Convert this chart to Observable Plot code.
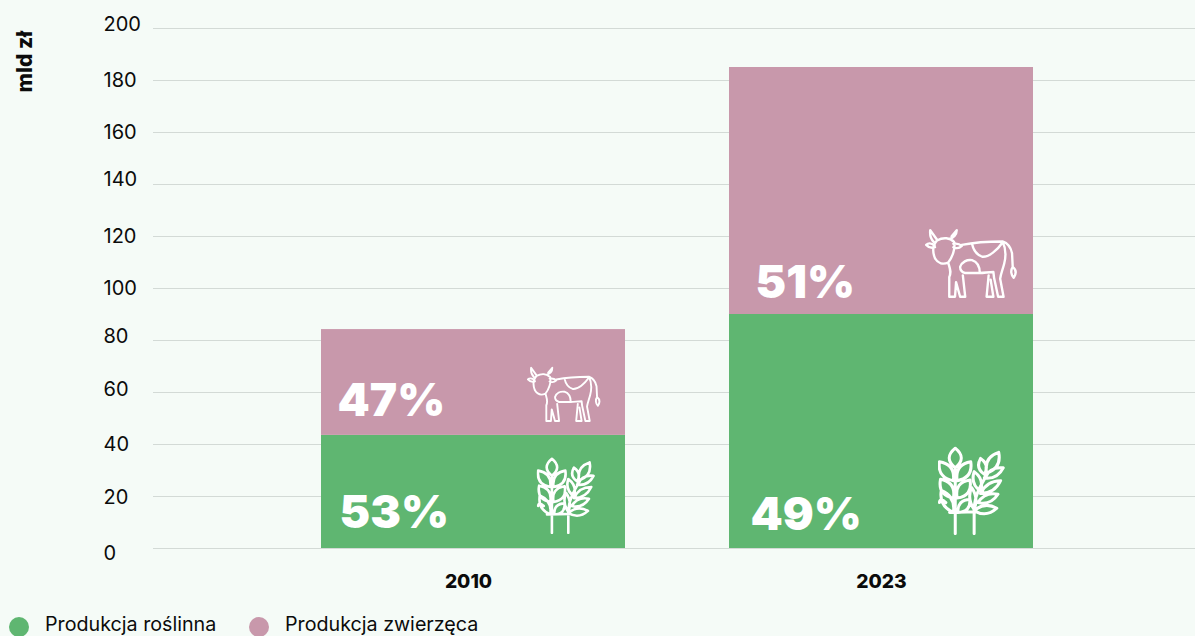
<!DOCTYPE html>
<html lang="pl">
<head>
<meta charset="utf-8">
<title>Produkcja rolnicza</title>
<script src="https://cdn.jsdelivr.net/npm/d3@7"></script>
<script src="https://cdn.jsdelivr.net/npm/@observablehq/plot@0.6"></script>
<style>
  html, body { margin: 0; padding: 0; background: #f5fbf7; overflow: hidden; }
  body { width: 1195px; height: 636px; font-family: Inter, sans-serif; color: #0b0b0b; }
  #chart svg { display: block; }
  .legend { position: relative; height: 24px; font-size: 19.7px; line-height: 24px; }
  .legend span { position: absolute; top: 0; white-space: nowrap; }
  .legend i { position: absolute; top: 5px; width: 20px; height: 20px; border-radius: 50%; }
</style>
</head>
<body>
<div id="chart"></div>
<div class="legend" id="legend"></div>
<script>
// Wartość produkcji rolniczej w mld zł
const years = ["2010", "2023"];
const seriesNames = ["Produkcja roślinna", "Produkcja zwierzęca"];
const plantValues = [43.5, 90];
const animalValues = [40.7, 95];
const plantShares = ["53%", "49%"];
const animalShares = ["47%", "51%"];
const yTicks = [0, 20, 40, 60, 80, 100, 120, 140, 160, 180, 200];

const GREEN = "#5fb671";
const PINK = "#c898ab";

const rows = years.flatMap((year, i) => [
  {year, series: seriesNames[0], value: plantValues[i], base: 0, share: plantShares[i]},
  {year, series: seriesNames[1], value: animalValues[i], base: plantValues[i], share: animalShares[i]}
]);

// Liniowe ikony: krowa i kłosy
const cowPath = [
  "M82,62C100,52 120,54 132,66C137,85 127,112 115,127C100,134 85,130 76,115C68,95 70,75 82,62Z",
  "M82,60L62,32C60,48 64,58 72,66M118,58C130,55 140,45 140,32L125,50",
  "M75,78C65,68 55,70 50,75C58,84 68,85 76,82M130,72C140,70 148,72 155,78C148,85 138,86 130,82",
  "M155,75C190,68 240,65 275,65C290,70 300,85 303,100L305,140",
  "M305,140C298,150 300,165 308,172C316,160 315,148 305,140Z",
  "M275,65C285,85 285,110 280,130C275,150 270,160 268,175L278,228L262,228L250,172",
  "M185,72C190,95 200,105 215,110C235,112 260,90 275,68",
  "M165,158C155,155 150,148 150,140C155,125 170,118 185,120C200,125 208,140 208,158L165,158",
  "M208,158C220,158 235,155 248,155L250,172",
  "M115,128C120,145 125,155 118,170L118,228L135,228L138,185L150,228L165,228L158,165",
  "M234,165L228,228L248,228L240,178"
].join("");
const cowSvg = `<svg xmlns="http://www.w3.org/2000/svg" viewBox="45 25 280 210"><path d="${cowPath}" fill="none" stroke="#fff" stroke-width="7" stroke-linecap="round" stroke-linejoin="round"/></svg>`;

// Listek kłosa jako zamknięty kształt między dwoma końcami
function leaf(x1, y1, x2, y2, bulge) {
  const mx = (x1 + x2) / 2, my = (y1 + y2) / 2;
  const dx = x2 - x1, dy = y2 - y1, len = Math.hypot(dx, dy);
  const nx = -dy / len * bulge, ny = dx / len * bulge;
  return `M${x1},${y1}Q${mx + nx},${my + ny} ${x2},${y2}Q${mx - nx},${my - ny} ${x1},${y1}Z`;
}
const wheatPath = [
  leaf(155, 378, 155, 326, 32),
  leaf(150, 412, 113, 362, 30), leaf(160, 412, 196, 362, 30),
  leaf(150, 458, 116, 408, 30), leaf(160, 458, 194, 410, 30),
  leaf(150, 496, 118, 438, 26), leaf(162, 496, 194, 462, 24),
  "M155,378L155,552M205,490L205,552M113,470C114,460 122,462 130,470",
  leaf(238, 392, 270, 337, 28), leaf(232, 395, 222, 353, 20),
  leaf(232, 405, 282, 378, 20), leaf(222, 440, 205, 388, 20),
  leaf(222, 446, 275, 412, 20), leaf(205, 488, 198, 430, 16),
  leaf(215, 470, 268, 448, 20), leaf(205, 492, 265, 485, 22),
  "M140,496L210,494M205,490C205,450 225,420 240,395"
].join("");
const wheatSvg = `<svg xmlns="http://www.w3.org/2000/svg" viewBox="108 322 180 232"><path d="${wheatPath}" fill="none" stroke="#fff" stroke-width="8" stroke-linecap="round" stroke-linejoin="round"/></svg>`;
const toUri = svg => "data:image/svg+xml," + encodeURIComponent(svg);

// Rozmieszczenie opisów i ikon względem środka słupka i dolnej krawędzi segmentu
const placements = [
  {row: 0, labelDx: -134, labelDy: -35, iconSrc: wheatSvg, iconW: 59, iconH: 77, iconDx: 92.5, iconDy: -53},
  {row: 1, labelDx: -136, labelDy: -34, iconSrc: cowSvg, iconW: 76, iconH: 57, iconDx: 91, iconDy: -41},
  {row: 2, labelDx: -131, labelDy: -33, iconSrc: wheatSvg, iconW: 68, iconH: 89, iconDx: 90, iconDy: -58},
  {row: 3, labelDx: -126, labelDy: -31, iconSrc: cowSvg, iconW: 95, iconH: 72, iconDx: 90.5, iconDy: -51}
];

// Etykiety osi Y nie leżą równo względem linii siatki
const tickShifts = {0: 5, 20: 1, 40: 0, 60: -3, 80: -4, 100: 0, 120: 0, 140: -5, 160: 0, 180: 0, 200: -4};

const plot = Plot.plot({
  width: 1195,
  height: 612,
  marginTop: 28,
  marginBottom: 64,
  marginLeft: 153,
  marginRight: 0,
  style: {background: "transparent", fontFamily: "Inter, sans-serif", color: "#0b0b0b"},
  x: {domain: years, axis: null, paddingInner: 0.255, paddingOuter: 0.4044, align: 0.51},
  y: {domain: [0, 200], axis: null},
  color: {domain: seriesNames, range: [GREEN, PINK]},
  marks: [
    Plot.ruleY(yTicks, {stroke: "#d3dad6", strokeWidth: 1}),
    Plot.barY(rows, {x: "year", y: "value", fill: "series", order: null}),
    ...yTicks.map(t => Plot.text([t], {
      y: d => d, text: d => String(d), frameAnchor: "left", textAnchor: "start",
      dx: -50, dy: tickShifts[t], fontSize: 20, fill: "#0b0b0b"
    })),
    ...years.map((year, i) => Plot.text([year], {
      x: d => d, frameAnchor: "bottom", dy: 39, dx: i === 0 ? -5 : 0,
      fontSize: 19.2, fontWeight: 800, fill: "#0b0b0b"
    })),
    Plot.text(["mld zł"], {
      frameAnchor: "top-left", text: d => d, rotate: -90, dx: -136, dy: 64,
      fontSize: 21, fontWeight: 800, fill: "#0b0b0b"
    }),
    ...placements.flatMap(p => {
      const r = rows[p.row];
      return [
        Plot.text([r], {
          x: "year", y: "base", text: "share", textAnchor: "start",
          dx: p.labelDx, dy: p.labelDy, fontSize: 46, fontWeight: 900, fill: "#fff"
        }),
        Plot.image([r], {
          x: "year", y: "base", src: () => toUri(p.iconSrc),
          width: p.iconW, height: p.iconH, dx: p.iconDx, dy: p.iconDy
        })
      ];
    })
  ]
});
document.getElementById("chart").append(plot);

const legendEl = document.getElementById("legend");
[[GREEN, 9, 45], [PINK, 249, 285]].forEach(([colour, dotX, textX], i) => {
  const dot = document.createElement("i");
  dot.style.left = dotX + "px";
  dot.style.background = colour;
  const label = document.createElement("span");
  label.style.left = textX + "px";
  label.textContent = seriesNames[i];
  legendEl.append(dot, label);
});
</script>
</body>
</html>
